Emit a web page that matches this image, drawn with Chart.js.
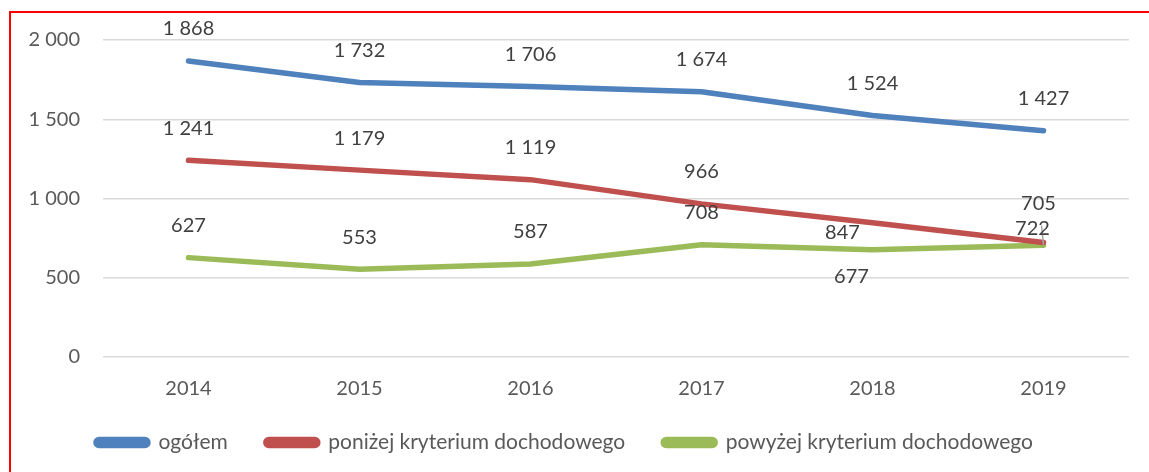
<!DOCTYPE html>
<html>
<head>
<meta charset="utf-8">
<script src="https://cdn.jsdelivr.net/npm/chart.js@4/dist/chart.umd.min.js"></script>
<style>
  html, body { margin: 0; padding: 0; background: #fff; overflow: hidden; }
  .frame { position: absolute; left: 9px; top: 11px; width: 1300px; height: 600px; border: 2px solid #ff0000; box-sizing: border-box; }
  .chartBox { position: absolute; left: 0; top: 0; width: 1149px; height: 470px; }
</style>
</head>
<body>
<div class="frame"></div>
<div class="chartBox"><canvas id="chart"></canvas></div>
<script>
const years = ['2014', '2015', '2016', '2017', '2018', '2019'];
const ogolem = [1868, 1732, 1706, 1674, 1524, 1427];
const ponizej = [1241, 1179, 1119, 966, 847, 722];
const powyzej = [627, 553, 587, 708, 677, 705];
const yTicks = [0, 500, 1000, 1500, 2000];

const FONT = 'Lato, "Open Sans", sans-serif';
const TEXT = '#595959';

function fmt(n) {
  return String(n).replace(/\B(?=(\d{3})+(?!\d))/g, ' ');
}

// label placement (Excel moved a few labels by hand)
const labelShift = {
  0: {},
  1: { 4: [-30, 10], 5: [-11, -14, true] },
  2: { 4: [-21, 27], 5: [-5, -42] }
};

const valueLabels = {
  id: 'valueLabels',
  afterDatasetsDraw(chart) {
    const ctx = chart.ctx;
    ctx.save();
    ctx.font = '20px ' + FONT;
    ctx.textAlign = 'center';
    ctx.textBaseline = 'middle';
    chart.data.datasets.forEach((ds, di) => {
      const meta = chart.getDatasetMeta(di);
      meta.data.forEach((pt, i) => {
        const s = labelShift[di][i] || [0, -32];
        const x = pt.x + s[0], y = pt.y + s[1];
        if (s[2]) {
          ctx.strokeStyle = '#a6a6a6';
          ctx.lineWidth = 1.5;
          ctx.beginPath();
          ctx.moveTo(pt.x - 2, y - 3);
          ctx.lineTo(pt.x, pt.y + 2);
          ctx.stroke();
        }
        ctx.fillStyle = '#404040';
        ctx.fillText(fmt(ds.data[i]), x, y);
      });
    });
    ctx.restore();
  }
};

// pull the legend a bit closer to the axis labels
const legendNudge = {
  id: 'legendNudge',
  afterLayout(chart) {
    if (chart.legend) {
      chart.legend.top -= 7;
      chart.legend.bottom -= 7;
    }
  }
};

function line(label, data, color) {
  return {
    label: label,
    data: data,
    borderColor: color,
    backgroundColor: color,
    borderWidth: 5.5,
    borderCapStyle: 'round',
    borderJoinStyle: 'round',
    pointRadius: 0,
    tension: 0
  };
}

new Chart(document.getElementById('chart'), {
  type: 'line',
  data: {
    labels: years,
    datasets: [
      line('ogółem', ogolem, '#4f81bd'),
      line('poniżej kryterium dochodowego', ponizej, '#c0504d'),
      line('powyżej kryterium dochodowego', powyzej, '#9bbb59')
    ]
  },
  plugins: [valueLabels, legendNudge],
  options: {
    responsive: true,
    maintainAspectRatio: false,
    animation: false,
    layout: { padding: { top: 40, right: 20, left: 0, bottom: 0 } },
    scales: {
      x: {
        offset: true,
        grid: { display: false, drawTicks: false },
        border: { display: false },
        ticks: { color: TEXT, font: { family: FONT, size: 20 }, padding: 20 },
        afterFit(scale) { scale.height = 44; }
      },
      y: {
        min: 0,
        max: 2000,
        afterBuildTicks(scale) { scale.ticks = yTicks.map(v => ({ value: v })); },
        grid: { color: '#d9d9d9', lineWidth: 1.5, drawTicks: false },
        border: { display: false },
        ticks: { color: TEXT, font: { family: FONT, size: 20 }, padding: 23, callback: v => fmt(v) },
        afterFit(scale) { scale.width = 103; }
      }
    },
    plugins: {
      tooltip: { enabled: false },
      legend: {
        position: 'bottom',
        labels: {
          color: TEXT,
          font: { family: FONT, size: 21 },
          boxWidth: 52,
          boxHeight: 6,
          useBorderRadius: true,
          borderRadius: 3,
          padding: 38
        }
      }
    }
  }
});
</script>
</body>
</html>
